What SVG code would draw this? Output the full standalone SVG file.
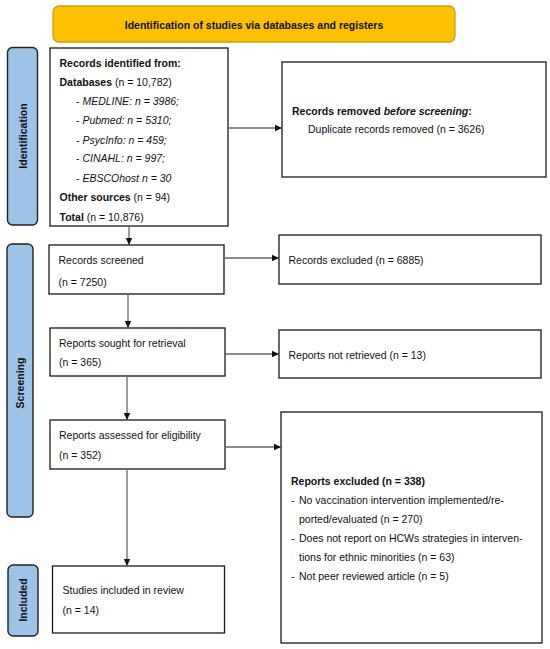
<svg xmlns="http://www.w3.org/2000/svg" width="550" height="649" viewBox="0 0 550 649">
<style>
text{font-family:"Liberation Sans",Arial,sans-serif;font-size:10.5px;fill:#111}
.b{font-weight:bold}
.i{font-style:italic}
.box{fill:#fff;stroke:#1a1a1a;stroke-width:1.3}
.side{fill:#9DC3E6;stroke:#222;stroke-width:1.4}
.hdr{fill:#FFC000;stroke:#C9A013;stroke-width:1.3}
.con{stroke:#666;stroke-width:1.3;fill:none}
</style>
<defs>
<marker id="ah" markerUnits="userSpaceOnUse" markerWidth="8" markerHeight="8" refX="7" refY="4" orient="auto">
<path d="M0,0.8 L7,4 L0,7.2 Z" fill="#111"/>
</marker>
</defs>
<rect width="550" height="649" fill="#fff"/>

<g id="header">
<rect class="hdr" x="53" y="6" width="402" height="36" rx="6"/>
<text class="b" x="254" y="28.5" text-anchor="middle">Identification of studies via databases and registers</text>
</g>

<g id="label-identification">
<rect class="side" x="7.5" y="47.5" width="30" height="177.5" rx="5"/>
<text class="b" x="26.5" y="136" text-anchor="middle" transform="rotate(-90 26.5 136)">Identification</text>
</g>
<g id="label-screening">
<rect class="side" x="7" y="244" width="26" height="273" rx="5"/>
<text class="b" x="24" y="383" text-anchor="middle" transform="rotate(-90 24 383)">Screening</text>
</g>
<g id="label-included">
<rect class="side" x="8" y="565" width="30" height="71" rx="5"/>
<text class="b" x="27" y="600" text-anchor="middle" transform="rotate(-90 27 600)">Included</text>
</g>

<g id="records-identified">
<rect class="box" x="50" y="48" width="178" height="178"/>
<text class="b" x="59.5" y="67">Records identified from:</text>
<text x="59.5" y="86"><tspan class="b">Databases</tspan> (n = 10,782)</text>
<text x="76" y="105">- <tspan class="i">MEDLINE: n = 3986;</tspan></text>
<text x="76" y="124">- <tspan class="i">Pubmed: n = 5310;</tspan></text>
<text x="76" y="144">- <tspan class="i">PsycInfo: n = 459;</tspan></text>
<text x="76" y="162">- <tspan class="i">CINAHL: n = 997;</tspan></text>
<text x="76" y="182">- <tspan class="i">EBSCOhost n = 30</tspan></text>
<text x="59.5" y="201"><tspan class="b">Other sources</tspan> (n = 94)</text>
<text x="59.5" y="221"><tspan class="b">Total</tspan> (n = 10,876)</text>
</g>

<g id="records-removed">
<rect class="box" x="282" y="62" width="264" height="115"/>
<text class="b" x="292" y="115">Records removed <tspan class="i">before screening</tspan>:</text>
<text x="308" y="133">Duplicate records removed (n = 3626)</text>
</g>

<g id="records-screened">
<rect class="box" x="49" y="245" width="175" height="49"/>
<text x="58.5" y="264">Records screened</text>
<text x="58.5" y="286">(n = 7250)</text>
</g>

<g id="records-excluded">
<rect class="box" x="279" y="235" width="262" height="49"/>
<text x="288.5" y="264">Records excluded (n = 6885)</text>
</g>

<g id="reports-sought">
<rect class="box" x="50" y="328" width="175" height="48"/>
<text x="59" y="347">Reports sought for retrieval</text>
<text x="59" y="366">(n = 365)</text>
</g>

<g id="reports-not-retrieved">
<rect class="box" x="279" y="330" width="262" height="48"/>
<text x="288.5" y="359">Reports not retrieved (n = 13)</text>
</g>

<g id="reports-assessed">
<rect class="box" x="50" y="420" width="175" height="49"/>
<text x="59" y="439">Reports assessed for eligibility</text>
<text x="59" y="459">(n = 352)</text>
</g>

<g id="reports-excluded">
<rect class="box" x="281" y="412" width="261" height="231"/>
<text class="b" x="291" y="485">Reports excluded (n = 338)</text>
<text x="291" y="504">-</text>
<text x="299" y="504">No vaccination intervention implemented/re-</text>
<text x="299" y="523">ported/evaluated (n = 270)</text>
<text x="291" y="542">-</text>
<text x="299" y="542">Does not report on HCWs strategies in interven-</text>
<text x="299" y="561">tions for ethnic minorities (n = 63)</text>
<text x="291" y="580">-</text>
<text x="299" y="580">Not peer reviewed article (n = 5)</text>
</g>

<g id="studies-included">
<rect class="box" x="52.5" y="566" width="172" height="67"/>
<text x="62.5" y="594">Studies included in review</text>
<text x="62.5" y="614">(n = 14)</text>
</g>

<g id="connectors">
<line class="con" x1="228" y1="128" x2="282" y2="128" marker-end="url(#ah)"/>
<line class="con" x1="129" y1="226" x2="129" y2="245" marker-end="url(#ah)"/>
<line class="con" x1="224" y1="258" x2="279" y2="258" marker-end="url(#ah)"/>
<line class="con" x1="128" y1="294" x2="128" y2="328" marker-end="url(#ah)"/>
<line class="con" x1="225" y1="354" x2="279" y2="354" marker-end="url(#ah)"/>
<line class="con" x1="127" y1="376" x2="127" y2="420" marker-end="url(#ah)"/>
<line class="con" x1="225" y1="447" x2="281" y2="447" marker-end="url(#ah)"/>
<line class="con" x1="127" y1="469" x2="127" y2="566" marker-end="url(#ah)"/>
</g>
</svg>
